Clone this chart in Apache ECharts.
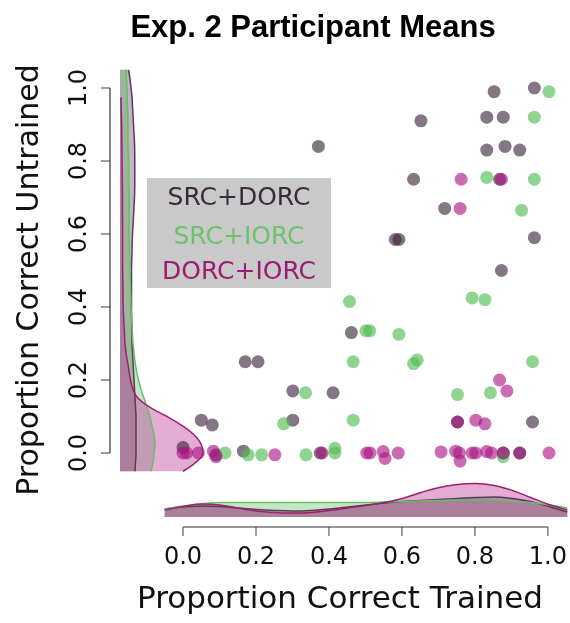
<!DOCTYPE html>
<html><head><meta charset="utf-8">
<script src="https://cdn.jsdelivr.net/npm/echarts@6/dist/echarts.min.js"></script>
<style>html,body{margin:0;padding:0;background:#fff}#c{width:570px;height:623px}</style>
</head><body><div id="c"></div>
<script>
// ---- data ----
var groups = ['SRC+DORC', 'SRC+IORC', 'DORC+IORC'];
var xTicks = ['0.0', '0.2', '0.4', '0.6', '0.8', '1.0'];
// [trained, untrained]
var srcDorc = [[0.85,0.99],[0.96,1.0],[0.65,0.91],[0.83,0.92],[0.875,0.92],[0.37,0.84],[0.83,0.83],[0.88,0.84],[0.92,0.83],
  [0.63,0.75],[0.865,0.75],[0.715,0.67],[0.58,0.585],[0.59,0.585],[0.96,0.59],[0.87,0.50],[0.46,0.33],[0.17,0.25],[0.205,0.25],
  [0.30,0.17],[0.41,0.165],[0.05,0.09],[0.08,0.077],[0.30,0.09],[0.75,0.085],[0.955,0.085],[0.0,0.015],[0.09,-0.005],
  [0.165,0.005],[0.375,0],[0.875,0],[0.92,0]];
var srcIorc = [[1.0,0.99],[0.96,0.92],[0.83,0.755],[0.96,0.75],[0.925,0.665],[0.455,0.415],[0.79,0.425],[0.825,0.42],
  [0.50,0.335],[0.51,0.335],[0.59,0.325],[0.465,0.25],[0.63,0.245],[0.64,0.255],[0.955,0.25],[0.335,0.165],[0.75,0.16],
  [0.84,0.165],[0.275,0.08],[0.465,0.09],[0.115,0],[0.178,-0.005],[0.215,-0.005],[0.336,-0.005],[0.415,0.013],[0.415,0],
  [0.875,-0.01]];
var dorcIorc = [[0.76,0.75],[0.87,0.75],[0.757,0.67],[0.865,0.2],[0.885,0.17],[0.75,0.085],[0.80,0.09],[0.825,0.08],
  [0,0],[0.01,0],[0.042,0],[0.083,0.005],[0.09,-0.01],[0.251,-0.005],[0.38,0],[0.502,0],[0.511,0],[0.547,0.004],
  [0.552,-0.015],[0.588,0],[0.705,0.003],[0.745,0.005],[0.755,0],[0.757,-0.022],[0.79,0],[0.80,0],[0.83,0.004],
  [0.843,0],[0.875,0],[0.92,0],[1.0,0]];

// marginal density of untrained (left), sampled at these untrained values
var untrainedGrid = ['-0.05','-0.025','0','0.025','0.05','0.075','0.1','0.125','0.15','0.175','0.2','0.225','0.25','0.275',
  '0.3','0.325','0.35','0.375','0.4','0.425','0.45','0.475','0.5','0.525','0.55','0.575','0.6','0.625','0.65','0.675',
  '0.7','0.725','0.75','0.775','0.8','0.825','0.85','0.875','0.9','0.925','0.95','0.975','1','1.025','1.05'];
var densUntrainedSrcDorc = [15,15.5,16,16,16,16,16,15.5,15,14.5,14,13.5,13,12.5,12,12,11.8,11.6,11.5,11.5,11.5,11.5,11.5,
  11.7,12,12.2,12.5,13,13.5,14,14.5,14.7,14.8,14.8,14.8,14.7,14.5,14,13.5,13,12.5,12,11,10,8.5];
var densUntrainedSrcIorc = [31,33,34,35,34,32,30,27,24,21,18.5,16.5,15,14,13,12.5,12,11.5,11,10.8,10.5,10.2,10,9.8,9.5,
  9.2,9,9,9,9,9,8.8,8.5,8.5,8.5,8.2,8,8,8,7.8,7.5,7.2,7,6.5,6];
var densUntrainedDorcIorc = [63,76,83,81,74,62,47,30,18,13,10.5,9,7.5,6,5,4.5,4,3.5,3.2,3,3,2.8,2.7,2.6,2.6,2.6,2.6,2.6,
  2.5,2.5,2.5,2.4,2.3,2.2,2.1,2,1.9,1.8,1.6,1.4,1.2,1.0,null,null,null];

// marginal density of trained (bottom)
var trainedGrid = ['-0.05','0','0.05','0.1','0.15','0.2','0.25','0.3','0.35','0.4','0.45','0.5','0.55','0.6','0.65',
  '0.7','0.75','0.8','0.85','0.9','0.95','1','1.05'];
var densTrainedSrcDorc = [8,10,11,10.5,9,7.5,6.5,6,6.5,8,10,12,14,15.5,16.5,17.5,18.5,19.5,20,18.5,15.5,10.5,5];
var densTrainedSrcIorc = [8,11,13,14.5,14.5,14.5,14.5,14.5,14.5,14.5,14.5,14.5,15,15.5,16,16.5,17,17,17,16,14.5,12,9];
var densTrainedDorcIorc = [7,10.5,13,12,9,6,4.5,4,4.5,6.5,9,11.5,14.5,18.5,24.5,29.5,32.5,33.5,31.5,26.5,19.5,12.5,7];

// ---- styles ----
var ptCol = ['rgba(60,35,60,0.78)', 'rgba(80,190,80,0.8)', 'rgba(170,20,130,0.78)'];
var lineCol = ['#5a3a5a', '#66bf66', '#a0206e'];
var fillCol = ['rgba(95,60,95,0.55)', 'rgba(90,185,90,0.5)', 'rgba(190,55,155,0.6)'];
var txtCol = ['#3a2a3a', '#6cc36c', '#9c1a72'];
var F = 'DejaVu Sans';
var AX_COL = '#333';

var chart = echarts.init(document.getElementById('c'), null, {renderer: 'canvas'});

function scatter(name, data, i) {
  return {type: 'scatter', name: name, xAxisIndex: 0, yAxisIndex: 0, data: data, symbolSize: 13, clip: false,
    itemStyle: {color: ptCol[i]}, z: 5};
}
function densLeft(data, i) {
  return {type: 'line', xAxisIndex: 1, yAxisIndex: 1, data: data, smooth: 0.4, symbol: 'none',
    lineStyle: {color: lineCol[i], width: 1.5}, areaStyle: {color: fillCol[i]}, z: 2};
}
function densBottom(data, i) {
  return {type: 'line', xAxisIndex: 2, yAxisIndex: 2, data: data, smooth: 0.4, symbol: 'none',
    lineStyle: {color: lineCol[i], width: 1.5}, areaStyle: {color: fillCol[i]}, z: 2};
}
function fmt(v) { return xTicks[Math.round(v * 5)]; }
function hiddenAxis(grid) {
  return {gridIndex: grid, type: 'value', min: 0, max: 1, show: false};
}
var tickVals = xTicks.map(function (t) { return parseFloat(t); });

chart.setOption({
  animation: false,
  grid: [
    {left: 183, top: 88, width: 366, height: 365},
    {left: 120, top: 69.75, width: 100, height: 401.5},
    {left: 164.7, top: 477, width: 402.6, height: 40},
    {left: 110, top: 88, width: 60, height: 365},
    {left: 183, top: 467, width: 366, height: 60}
  ],
  xAxis: [
    {gridIndex: 0, type: 'value', min: 0, max: 1, show: false},
    {gridIndex: 1, type: 'value', min: 0, max: 100, show: false},
    {gridIndex: 2, type: 'category', data: trainedGrid, boundaryGap: false, show: false},
    hiddenAxis(3),
    {gridIndex: 4, type: 'value', min: 0, max: 1, interval: 0.2,
      axisLine: {show: false}, axisTick: {show: false},
      axisLabel: {fontFamily: F, fontSize: 24, color: '#111', margin: 19, formatter: fmt},
      splitLine: {show: false}}
  ],
  yAxis: [
    {gridIndex: 0, type: 'value', min: 0, max: 1, show: false},
    {gridIndex: 1, type: 'category', data: untrainedGrid, boundaryGap: false, show: false},
    {gridIndex: 2, type: 'value', min: 0, max: 40, show: false},
    {gridIndex: 3, type: 'value', min: 0, max: 1, interval: 0.2,
      axisLine: {show: false}, axisTick: {show: false},
      axisLabel: {fontFamily: F, fontSize: 24, color: '#111', margin: 18, rotate: 90, formatter: fmt},
      splitLine: {show: false}},
    hiddenAxis(4)
  ],
  series: [
    densLeft(densUntrainedSrcDorc, 0), densLeft(densUntrainedSrcIorc, 1), densLeft(densUntrainedDorcIorc, 2),
    densBottom(densTrainedSrcDorc, 0), densBottom(densTrainedSrcIorc, 1), densBottom(densTrainedDorcIorc, 2),
    scatter(groups[0], srcDorc, 0), scatter(groups[1], srcIorc, 1), scatter(groups[2], dorcIorc, 2),
    // y axis line + ticks (grid 3, left edge = axis position)
    {type: 'line', xAxisIndex: 3, yAxisIndex: 3, data: [[0, tickVals[0]], [0, tickVals[tickVals.length - 1]]],
      symbol: 'none', clip: false, silent: true, lineStyle: {color: AX_COL, width: 1.2}, z: 3},
    {type: 'scatter', xAxisIndex: 3, yAxisIndex: 3, clip: false, silent: true, z: 3,
      data: tickVals.map(function (v) { return [0, v]; }),
      symbol: 'rect', symbolSize: [9, 1.2], symbolOffset: [-4.5, 0], itemStyle: {color: AX_COL}},
    // x axis line + ticks (grid 4, bottom edge = axis position)
    {type: 'line', xAxisIndex: 4, yAxisIndex: 4, data: [[tickVals[0], 0], [tickVals[tickVals.length - 1], 0]],
      symbol: 'none', clip: false, silent: true, lineStyle: {color: AX_COL, width: 1.2}, z: 3},
    {type: 'scatter', xAxisIndex: 4, yAxisIndex: 4, clip: false, silent: true, z: 3,
      data: tickVals.map(function (v) { return [v, 0]; }),
      symbol: 'rect', symbolSize: [1.2, 9], symbolOffset: [0, 4.5], itemStyle: {color: AX_COL}}
  ],
  graphic: [
    {id: 'title', type: 'text', style: {text: 'Exp. 2 Participant Means', x: 313, y: 28, align: 'center', verticalAlign: 'middle',
      font: 'bold 31px "Liberation Sans", Arial, sans-serif', fill: '#000'}},
    {id: 'xname', type: 'text', style: {text: 'Proportion Correct Trained', x: 340, y: 600, align: 'center', verticalAlign: 'middle',
      font: '31px "DejaVu Sans"', fill: '#111'}},
    {id: 'yname', type: 'text', rotation: Math.PI / 2, x: 30, y: 280, style: {text: 'Proportion Correct Untrained', x: 0, y: 0,
      align: 'center', verticalAlign: 'middle', font: '30px "DejaVu Sans"', fill: '#111'}},
    {id: 'legbox', type: 'rect', shape: {x: 147, y: 178, width: 184, height: 110}, style: {fill: '#c9c9c9'}, z: 10},
    {id: 'leg0', type: 'text', z: 11, style: {text: groups[0], x: 239, y: 198, align: 'center', verticalAlign: 'middle',
      font: '25px "DejaVu Sans"', fill: txtCol[0]}},
    {id: 'leg1', type: 'text', z: 11, style: {text: groups[1], x: 239, y: 237, align: 'center', verticalAlign: 'middle',
      font: '25px "DejaVu Sans"', fill: txtCol[1]}},
    {id: 'leg2', type: 'text', z: 11, style: {text: groups[2], x: 239, y: 272, align: 'center', verticalAlign: 'middle',
      font: '25px "DejaVu Sans"', fill: txtCol[2]}}
  ]
});
</script></body></html>
